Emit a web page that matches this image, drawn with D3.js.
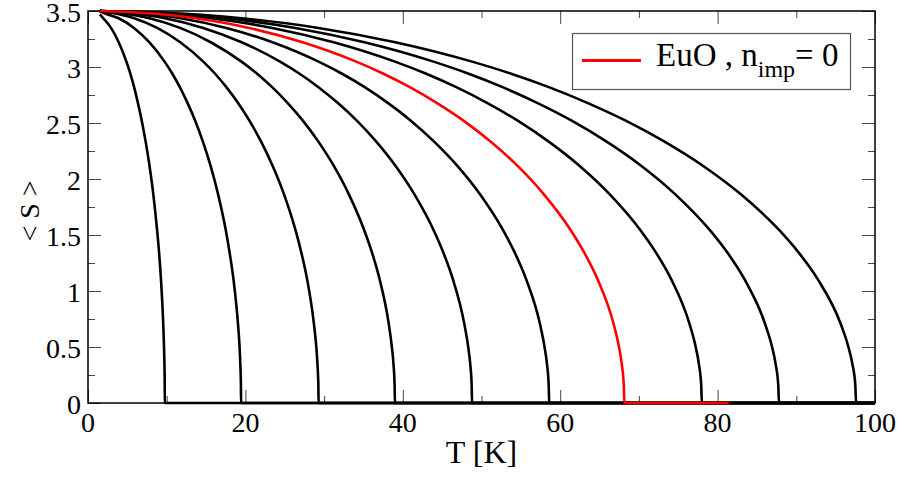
<!DOCTYPE html>
<html>
<head>
<meta charset="utf-8">
<script src="https://cdn.jsdelivr.net/npm/d3@7/dist/d3.min.js"></script>
<style>
  html, body { margin: 0; padding: 0; background: #fff; }
  text { font-family: "Liberation Serif", "DejaVu Serif", serif; fill: #000; }
</style>
</head>
<body>
<svg id="chart" width="905" height="478"></svg>
<script>
// ---- data (T in K, <S>) ----
const xTicks = [0, 20, 40, 60, 80, 100];
const yTicks = [0, 0.5, 1, 1.5, 2, 2.5, 3, 3.5];
const legendLabel = "EuO , n";
const legendSub = "imp";
const legendTail = "= 0";

// <S> levels (shared by all curves, which have the same shape)
const sLevels = [3.484, 3.435, 3.349, 3.221, 3.048, 2.942, 2.820, 2.680, 2.521, 2.336, 2.121, 1.863, 1.543, 1.345, 1.106, 0.705, 0.500, 0.354, 0.158, 0];

// temperatures at which each curve passes those levels
const curve1 = [[1.5,3.47],[1.95,3.435],[2.93,3.349],[3.90,3.221],[4.88,3.048],[5.37,2.942],[5.86,2.820],[6.34,2.680],[6.83,2.521],[7.32,2.336],[7.81,2.121],[8.30,1.863],[8.78,1.543],[9.03,1.345],[9.27,1.106],[9.56,0.705],[9.66,0.500],[9.71,0.354],[9.75,0.158],[9.76,0],[100,0]];
const curve2T = [1.95, 3.89, 5.84, 7.78, 9.73, 10.70, 11.67, 12.64, 13.62, 14.59, 15.56, 16.53, 17.51, 17.99, 18.48, 19.06, 19.26, 19.35, 19.43, 19.45];
const curve3T = [2.93, 5.86, 8.79, 11.72, 14.65, 16.12, 17.58, 19.05, 20.51, 21.98, 23.44, 24.91, 26.37, 27.10, 27.84, 28.71, 29.01, 29.15, 29.27, 29.3];
const curve4T = [3.9, 7.8, 11.7, 15.6, 19.5, 21.45, 23.4, 25.35, 27.3, 29.25, 31.2, 33.15, 35.1, 36.08, 37.05, 38.22, 38.61, 38.81, 38.96, 39.0];
const curve5T = [4.88, 9.76, 14.64, 19.52, 24.4, 26.84, 29.28, 31.72, 34.16, 36.6, 39.04, 41.48, 43.92, 45.14, 46.36, 47.82, 48.31, 48.56, 48.75, 48.8];
const curve6T = [5.86, 11.72, 17.58, 23.44, 29.3, 32.23, 35.16, 38.09, 41.02, 43.95, 46.88, 49.81, 52.74, 54.21, 55.67, 57.43, 58.01, 58.31, 58.54, 58.6];
const curveEuOT = [6.82, 13.63, 20.45, 27.26, 34.08, 37.48, 40.89, 44.30, 47.71, 51.11, 54.52, 57.93, 61.34, 63.04, 64.74, 66.79, 67.47, 67.81, 68.08, 68.15];
const curve8T = [7.8, 15.6, 23.4, 31.2, 39.0, 42.9, 46.8, 50.7, 54.6, 58.5, 62.4, 66.3, 70.2, 72.15, 74.1, 76.44, 77.22, 77.61, 77.92, 78.0];
const curve9T = [8.78, 17.56, 26.34, 35.12, 43.9, 48.29, 52.68, 57.07, 61.46, 65.85, 70.24, 74.63, 79.02, 81.22, 83.41, 86.04, 86.92, 87.36, 87.71, 87.8];
const curve10T = [9.76, 19.52, 29.28, 39.04, 48.8, 53.68, 58.56, 63.44, 68.32, 73.2, 78.08, 82.96, 87.84, 90.28, 92.72, 95.65, 96.62, 97.11, 97.5, 97.6];
const startT = 1.5, startS = 3.5;
// end of the S = 0 tail of each curve
const blackTailEnd = 100;
const euoTailEnd = 81.4;

function build(ts, tailEnd) {
  const pts = [[startT, startS]];
  ts.forEach((t, i) => pts.push([t, sLevels[i]]));
  pts.push([tailEnd, 0]);
  return pts;
}
const blackCurves = [
  curve1,
  build(curve2T, blackTailEnd), build(curve3T, blackTailEnd), build(curve4T, blackTailEnd),
  build(curve5T, blackTailEnd), build(curve6T, blackTailEnd), build(curve8T, blackTailEnd),
  build(curve9T, blackTailEnd), build(curve10T, blackTailEnd)
];
const redCurve = build(curveEuOT, euoTailEnd);

// ---- layout ----
const svg = d3.select("#chart");
const L = 88, R = 875, T = 11, B = 403;
const x = d3.scaleLinear().domain([0, 100]).range([L, R]);
const y = d3.scaleLinear().domain([0, 3.5]).range([B, T]);
const serif = "'Liberation Serif', 'DejaVu Serif', serif";

svg.append("defs").append("clipPath").attr("id", "clip")
  .append("rect").attr("x", L).attr("y", T - 3).attr("width", R - L).attr("height", B - T + 6);

const tickColor = "#444";
const majorLen = 13, minorLen = 7;
const xMinor = d3.range(10, 100, 20);
const yMinor = d3.range(0.25, 3.5, 0.5);

function styleAxis(g) {
  g.select(".domain").remove();
  g.selectAll(".tick line").attr("stroke", tickColor).attr("stroke-width", 1);
  g.selectAll(".tick text").remove();
}
function addAxis(axisFn, scale, pos, values, len) {
  svg.append("g").attr("transform", pos)
    .call(axisFn(scale).tickValues(values).tickSize(-len).tickFormat(""))
    .call(styleAxis);
}
addAxis(d3.axisBottom, x, `translate(0,${B})`, xTicks, majorLen);
addAxis(d3.axisBottom, x, `translate(0,${B})`, xMinor, minorLen);
addAxis(d3.axisTop, x, `translate(0,${T})`, xTicks, majorLen);
addAxis(d3.axisTop, x, `translate(0,${T})`, xMinor, minorLen);
addAxis(d3.axisLeft, y, `translate(${L},0)`, yTicks, majorLen);
addAxis(d3.axisLeft, y, `translate(${L},0)`, yMinor, minorLen);
addAxis(d3.axisRight, y, `translate(${R},0)`, yTicks, majorLen);
addAxis(d3.axisRight, y, `translate(${R},0)`, yMinor, minorLen);

// tick labels
svg.append("g").selectAll("text").data(xTicks).join("text")
  .attr("x", d => x(d)).attr("y", 432)
  .attr("text-anchor", "middle").attr("font-size", 28).attr("font-family", serif)
  .text(d => d3.format("d")(d));
svg.append("g").selectAll("text").data(yTicks).join("text")
  .attr("x", 81).attr("y", d => y(d) + 1.5)
  .attr("text-anchor", "end").attr("dominant-baseline", "central")
  .attr("font-size", 28).attr("font-family", serif)
  .text(d => String(d));

// axis titles
svg.append("text").attr("x", (L + R) / 2).attr("y", 463)
  .attr("text-anchor", "middle").attr("font-size", 32).attr("font-family", serif).text("T [K]");
svg.append("text").attr("transform", `translate(29,${(T + B) / 2 + 4}) rotate(-90)`)
  .attr("text-anchor", "middle").attr("dominant-baseline", "central")
  .attr("font-size", 28).attr("font-family", serif).text("< S >");

// frame
svg.append("rect").attr("x", L).attr("y", T).attr("width", R - L).attr("height", B - T)
  .attr("fill", "none").attr("stroke", "#000").attr("stroke-width", 1.5);

// curves
const line = d3.line().x(d => x(d[0])).y(d => y(d[1])).curve(d3.curveMonotoneX);
const plot = svg.append("g").attr("clip-path", "url(#clip)");
plot.selectAll("path.black").data(blackCurves).join("path")
  .attr("class", "black").attr("d", line)
  .attr("fill", "none").attr("stroke", "#000").attr("stroke-width", 2.6);
plot.append("path").datum(redCurve).attr("d", line)
  .attr("fill", "none").attr("stroke", "#ff0000").attr("stroke-width", 2.6);

// legend
const lg = svg.append("g");
lg.append("rect").attr("x", 572.5).attr("y", 33.5).attr("width", 278).attr("height", 56)
  .attr("fill", "#fff").attr("stroke", "#555").attr("stroke-width", 1.2);
lg.append("line").attr("x1", 582).attr("x2", 641).attr("y1", 60.5).attr("y2", 60.5)
  .attr("stroke", "#ff0000").attr("stroke-width", 3);
const lt = lg.append("text").attr("x", 656).attr("y", 66).attr("font-size", 33).attr("font-family", serif);
lt.append("tspan").text(legendLabel);
lt.append("tspan").attr("font-size", 24).attr("dy", 11).text(legendSub);
lt.append("tspan").attr("font-size", 33).attr("dy", -11).text(legendTail);
</script>
</body>
</html>
